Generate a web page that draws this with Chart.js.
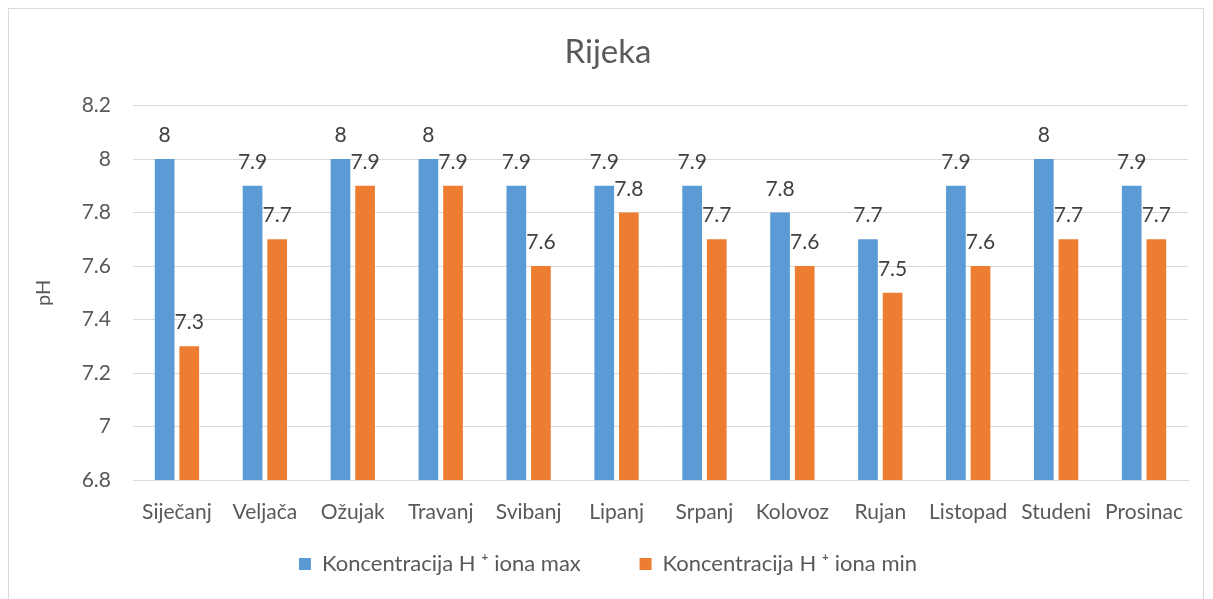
<!DOCTYPE html>
<html><head><meta charset="utf-8">
<script src="https://cdn.jsdelivr.net/npm/chart.js@4"></script>
<style>
html,body{margin:0;padding:0;background:#fff;}
#wrap{position:absolute;left:0;top:0;width:1213px;height:599px;}
#frame{position:absolute;left:8px;top:8px;width:1196px;height:600px;border:1px solid #d9d9d9;box-sizing:border-box;pointer-events:none;}
</style></head>
<body>
<div id="wrap"><canvas id="c" width="1213" height="599"></canvas></div>
<div id="frame"></div>
<script>
const categories = ["Siječanj","Veljača","Ožujak","Travanj","Svibanj","Lipanj","Srpanj","Kolovoz","Rujan","Listopad","Studeni","Prosinac"];
const maxValues = [8,7.9,8,8,7.9,7.9,7.9,7.8,7.7,7.9,8,7.9];
const minValues = [7.3,7.7,7.9,7.9,7.6,7.8,7.7,7.6,7.5,7.6,7.7,7.7];
const seriesNames = ["Koncentracija H \u207A iona max","Koncentracija H \u207A iona min"];
const chartTitle = "Rijeka";
const yTitle = "pH";

const FONT = "Lato, 'Open Sans', sans-serif";

const labelPlugin = {
  id:'labels',
  afterDatasetsDraw(chart){
    const ctx = chart.ctx;
    ctx.save();
    ctx.font = "21px " + FONT;
    ctx.fillStyle = "#404040";
    ctx.textAlign = "center";
    ctx.textBaseline = "alphabetic";
    chart.data.datasets.forEach((ds,i)=>{
      const meta = chart.getDatasetMeta(i);
      meta.data.forEach((bar,j)=>{
        ctx.fillText(String(ds.data[j]), bar.x, bar.y - 17);
      });
    });
    ctx.restore();
  }
};

new Chart(document.getElementById('c'), {
  type:'bar',
  data:{
    labels:categories,
    datasets:[
      {label:seriesNames[0], data:maxValues, backgroundColor:'#5B9BD5', borderWidth:0},
      {label:seriesNames[1], data:minValues, backgroundColor:'#ED7D31', borderWidth:0}
    ]
  },
  options:{
    responsive:false,
    animation:false,
    layout:{padding:{left:28,right:25,top:10,bottom:14}},
    datasets:{bar:{categoryPercentage:0.56,barPercentage:0.8}},
    plugins:{
      title:{display:true,text:chartTitle,color:'#595959',font:{family:FONT,size:33,weight:'normal'},padding:{top:23,bottom:33}},
      legend:{position:'bottom',labels:{color:'#595959',font:{family:FONT,size:22},boxWidth:12,boxHeight:12,padding:25,
        generateLabels(chart){
          const items = Chart.defaults.plugins.legend.labels.generateLabels(chart);
          items[0].text = items[0].text + "\u00A0\u00A0\u00A0\u00A0\u00A0\u00A0";
          return items;
        }}},
      tooltip:{enabled:false}
    },
    scales:{
      x:{
        afterFit(s){ s.height = 48; },
        grid:{display:false},
        border:{display:true,color:'#d9d9d9',width:1},
        ticks:{color:'#595959',font:{family:FONT,size:21},padding:12,maxRotation:0,autoSkip:false}
      },
      y:{
        min:6.8,max:8.2,
        afterFit(s){ s.width = 105; },
        grid:{color:'#d9d9d9',drawTicks:false},
        border:{display:false},
        ticks:{stepSize:0.2,color:'#595959',font:{family:FONT,size:21},padding:22,
          callback:(v)=>String(Number(v.toFixed(1)))},
        title:{display:true,text:yTitle,color:'#595959',font:{family:FONT,size:20}}
      }
    }
  },
  plugins:[labelPlugin]
});
</script>
</body></html>
